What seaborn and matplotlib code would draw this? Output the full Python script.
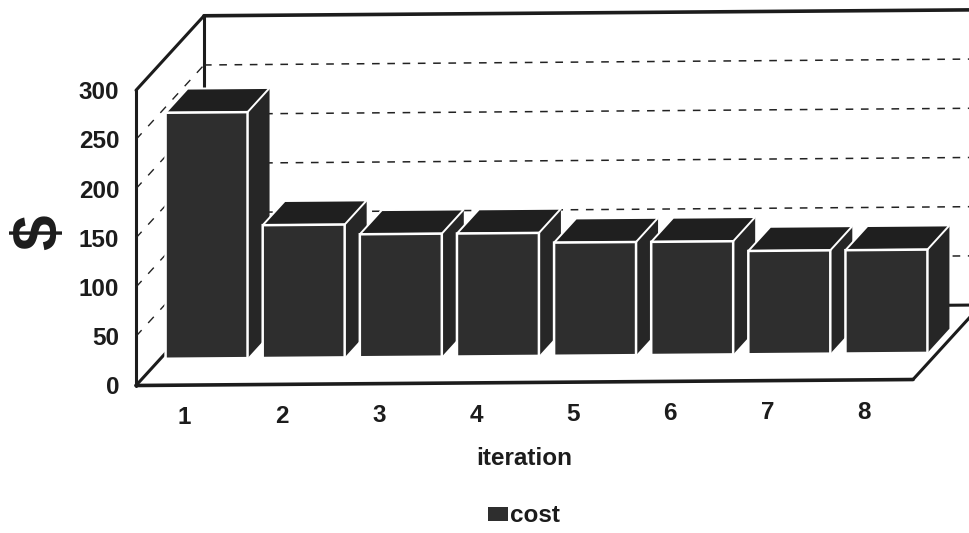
import numpy as np
import pandas as pd
import matplotlib
matplotlib.use('Agg')
import matplotlib.pyplot as plt
from matplotlib.patches import Polygon
from matplotlib.transforms import Affine2D
import seaborn as sns

iterations = ['1', '2', '3', '4', '5', '6', '7', '8']
cost = [250, 135, 125, 125, 115, 115, 105, 105]
y_ticks = [0, 50, 100, 150, 200, 250, 300]

W, H = 969, 533
sns.set_theme(style='white')
plt.rcParams['font.family'] = 'Liberation Sans'
plt.rcParams['font.weight'] = 'bold'
INK = '#1c1c1c'
FS = 17.5


def rect(left, y0, width, height):
    # pixel box (top-left origin) -> figure fractions
    return [left / W, (H - y0) / H, width / W, height / H]


fig = plt.figure(figsize=(W / 100, H / 100), dpi=100)
fig.patch.set_facecolor('white')

# front plane holds the axis labels, bars sit on a plane pushed back a bit
ax = fig.add_axes(rect(136, 385.5, 777, 295.2))
ax_bars = fig.add_axes(rect(158, 359, 777, 295.2))
ax_bars.patch.set_alpha(0)

# scan is slightly skewed, horizontal lines climb to the right
skew = 0.0077
shear = Affine2D.from_values(1, skew, 0, 1, 0, -skew * 136)

df = pd.DataFrame({'iteration': iterations, 'cost': cost})
sns.barplot(data=df, x='iteration', y='cost', ax=ax_bars, color='#2e2e2e', saturation=1,
            width=0.844, label='cost', legend=False, edgecolor='white', linewidth=1.8)
ax_bars.set_xlim(-0.5, 7.5)
ax_bars.set_ylim(0, 300)
ax_bars.axis('off')

ax.set_xlim(-0.5, 7.5)
ax.set_ylim(0, 300)
ax.set_xticks(range(len(iterations)))
ax.set_xticklabels(iterations)
ax.set_yticks(y_ticks)
ax.tick_params(axis='both', length=0, labelsize=FS, labelcolor=INK)
ax.tick_params(axis='x', pad=15)
ax.tick_params(axis='y', pad=12)
for s in ax.spines.values():
    s.set_visible(False)
for lab in ax.get_xticklabels():
    lab.set_transform(lab.get_transform() + shear)

ax.set_xlabel('iteration', fontsize=FS, fontweight='bold', color=INK, labelpad=13)
ax.set_ylabel('$', fontsize=46, fontweight='bold', color=INK, rotation=90, va='center', ha='center')
ax.yaxis.set_label_coords((40 - 136) / 777, (385.5 - 232) / 295.2)

# frame of the 3d box, depth in pixels
DX, DY = 68, 74


def px(x, v, depth=0.0):
    xd, yd = ax.transData.transform((x, v))
    return xd + DX * depth, yd + DY * depth


def line(a, b, **kw):
    kw.setdefault('color', INK)
    kw.setdefault('lw', 2.2)
    kw.setdefault('solid_capstyle', 'round')
    ax.plot([a[0], b[0]], [a[1], b[1]], transform=shear, clip_on=False, **kw)


x0, x1 = -0.5, 7.5
line(px(x0, 0), px(x1, 0), lw=2.6)
line(px(x0, 0), px(x0, 300))
line(px(x0, 300), px(x0, 300, 1))
line(px(x0, 300, 1), px(x1, 300, 1), lw=2.6)
line(px(x0, 0, 1), px(x0, 300, 1))
line(px(x0, 0), px(x0, 0, 1))
line(px(x1, 0), px(x1, 0, 1))
line(px(x0, 0, 1), px(x1, 0, 1))
for v in y_ticks[1:-1]:
    line(px(x0, v, 1), px(x1, v, 1), lw=1.1, ls=(0, (5, 5)), color='#222222')
    line(px(x0, v), px(x0, v, 1), lw=1.0, ls=(0, (6, 7)), color='#222222')

# top and side faces come from the seaborn bar rectangles
BX, BY = 22, 24
for i, p in enumerate(ax_bars.patches):
    x, w, h = p.get_x(), p.get_width(), p.get_height()
    l = ax_bars.transData.transform((x, 0))
    r = ax_bars.transData.transform((x + w, 0))
    t = ax_bars.transData.transform((x + w, h))
    side = [(r[0], r[1]), (r[0] + BX, r[1] + BY), (t[0] + BX, t[1] + BY), (t[0], t[1])]
    top = [(l[0], t[1]), (l[0] + BX, t[1] + BY), (t[0] + BX, t[1] + BY), (t[0], t[1])]
    z = 3 + i * 3
    ax_bars.add_patch(Polygon(side, closed=True, transform=shear, fc='#262626', ec='none', zorder=z, clip_on=False))
    ax_bars.add_patch(Polygon(top, closed=True, transform=shear, fc='#1f1f1f', ec='white', lw=1.4, zorder=z + 1, clip_on=False))
    p.set_transform(ax_bars.transData + shear)
    p.set_zorder(z + 2)
    p.set_clip_on(False)

handles = [ax_bars.containers[0].patches[0]]
leg = fig.legend(handles, ['cost'], loc='center', bbox_to_anchor=(524 / W, 1 - 516 / H), frameon=False,
                 fontsize=FS, handlelength=0.8, handleheight=0.5, handletextpad=0.1)
for txt in leg.get_texts():
    txt.set_color(INK)
for hd in leg.legend_handles:
    hd.set_edgecolor('none')

fig.savefig('out.png', dpi=100)
plt.close(fig)
